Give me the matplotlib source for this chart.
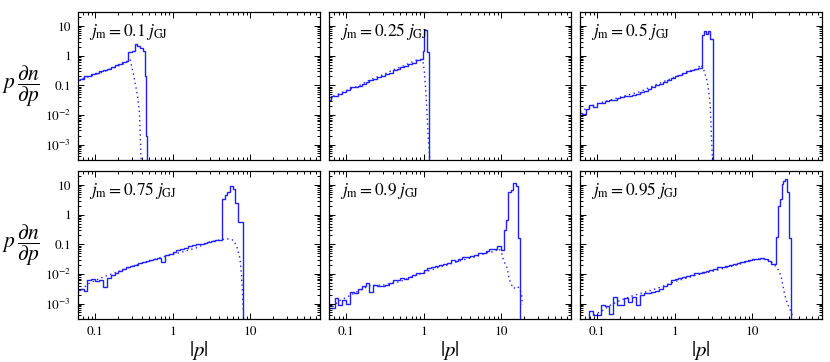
import matplotlib
matplotlib.use("Agg")
import matplotlib.pyplot as plt
from matplotlib.ticker import LogLocator, FixedLocator, FixedFormatter, NullFormatter

plt.rcParams['font.family'] = ['STIXGeneral', 'DejaVu Serif']
plt.rcParams['mathtext.fontset'] = 'stix'

# ---------------- data ----------------
labels = [r'$j_{\rm m} = 0.1\;j_{\rm GJ}$', r'$j_{\rm m} = 0.25\;j_{\rm GJ}$', r'$j_{\rm m} = 0.5\;j_{\rm GJ}$',
          r'$j_{\rm m} = 0.75\;j_{\rm GJ}$', r'$j_{\rm m} = 0.9\;j_{\rm GJ}$', r'$j_{\rm m} = 0.95\;j_{\rm GJ}$']

base_edges = [0.0562, 0.0631, 0.0708, 0.0794, 0.0891, 0.100, 0.112, 0.126, 0.141, 0.158,
              0.178, 0.200, 0.224, 0.251, 0.282, 0.316, 0.355, 0.398, 0.447, 0.501,
              0.562, 0.631, 0.708, 0.794, 0.891, 1.000, 1.122, 1.259, 1.413, 1.585,
              1.778, 1.995, 2.239, 2.512, 2.818, 3.162, 3.548, 3.981, 4.467, 5.012,
              5.623, 6.310, 7.079, 7.943, 8.913, 10.00, 11.22, 12.59, 14.13, 15.85, 17.78]

# panel 1 : j = 0.1
edges_1 = base_edges[:14] + [0.269, 0.295, 0.324, 0.347, 0.380, 0.417, 0.437, 0.457, 0.473, 0.490]
solid_1 = [0.15, 0.17, 0.20, 0.21, 0.24, 0.26, 0.30, 0.33, 0.37, 0.42, 0.47, 0.53, 0.60,
           0.68, 1.3, 1.5, 2.5, 2.2, 1.8, 1.5, 0.2, 0.002, 1e-6]
dot_p_1 = [0.06, 0.08, 0.10, 0.13, 0.16, 0.20, 0.25, 0.282, 0.309, 0.33, 0.352, 0.372, 0.380, 0.389, 0.395]
dot_y_1 = [0.155, 0.19, 0.23, 0.29, 0.36, 0.45, 0.58, 0.76, 0.27, 0.11, 0.045, 0.0126, 0.0034, 4.4e-4, 1e-4]

# panel 2 : j = 0.25
edges_2 = base_edges[:25] + [0.977, 1.023, 1.109, 1.175, 1.216]
solid_2 = [0.033, 0.042, 0.044, 0.050, 0.060, 0.070, 0.085, 0.088, 0.095, 0.115, 0.125, 0.150,
           0.160, 0.190, 0.210, 0.245, 0.270, 0.320, 0.350, 0.410, 0.450, 0.530, 0.590, 0.690,
           0.80, 1.4, 7.5, 1.3, 1e-6]
dot_p_2 = [0.06, 0.10, 0.15, 0.20, 0.30, 0.40, 0.60, 0.80, 0.95, 0.977, 1.02, 1.07, 1.11, 1.15, 1.19, 1.23]
dot_y_2 = [0.037, 0.066, 0.10, 0.15, 0.23, 0.33, 0.50, 0.70, 0.75, 0.68, 0.31, 0.057, 0.0095, 0.0016, 5e-4, 1e-4]

# panel 3 : j = 0.5
edges_3 = base_edges[:33] + [2.399, 2.570, 2.692, 2.851, 3.090, 3.236]
solid_3 = [0.012, 0.011, 0.016, 0.021, 0.019, 0.026, 0.025, 0.029, 0.032, 0.031, 0.038, 0.040,
           0.043, 0.045, 0.047, 0.052, 0.058, 0.066, 0.075, 0.085, 0.10, 0.115, 0.13, 0.15,
           0.18, 0.20, 0.22, 0.26, 0.31, 0.34, 0.37, 0.40,
           5.2, 6.8, 5.5, 7.0, 3.6, 1e-6]
dot_p_3 = [0.06, 0.10, 0.20, 0.35, 0.60, 1.0, 1.5, 2.0, 2.14, 2.29, 2.40, 2.63, 2.75, 2.88, 2.95, 3.02, 3.16]
dot_y_3 = [0.013, 0.024, 0.040, 0.060, 0.11, 0.19, 0.27, 0.36, 0.50, 0.42, 0.31, 0.14, 0.066, 0.021, 0.0044, 9.3e-4, 1e-4]

# panel 4 : j = 0.75
edges_4 = base_edges[:38] + [4.315, 4.677, 5.012, 5.521, 6.026, 6.397, 7.079, 8.204, 8.511]
solid_4 = [0.0028, 0.0030, 0.0027, 0.0062, 0.0065, 0.0058, 0.0061, 0.0035, 0.0075, 0.0090,
           0.0105, 0.0125, 0.0150, 0.0165, 0.0190, 0.0205, 0.0230, 0.0250, 0.0270, 0.0300,
           0.0330, 0.0350, 0.0260, 0.0420, 0.0480, 0.0550, 0.0620, 0.0700, 0.0780, 0.0850,
           0.0920, 0.1000, 0.1050, 0.1150, 0.1200, 0.1300, 0.1350,
           0.14, 3.5, 4.5, 6.0, 9.0, 7.5, 2.4, 0.58, 1e-6]
dot_p_4 = [0.06, 0.08, 0.10, 0.13, 0.20, 0.30, 0.50, 0.70, 1.0, 1.5, 2.0, 3.0, 4.0, 5.0, 6.1,
           6.76, 7.41, 7.76, 8.04, 8.2]
dot_y_4 = [0.0022, 0.0045, 0.0060, 0.0080, 0.012, 0.018, 0.027, 0.036, 0.045, 0.060, 0.075,
           0.12, 0.14, 0.155, 0.138, 0.083, 0.033, 0.0091, 0.0015, 5.2e-4]

# panel 5 : j = 0.9
edges_5 = base_edges[:45] + [10.00, 10.91, 11.48, 12.42, 13.30, 14.39, 15.42, 16.52, 17.54, 18.62]
solid_5 = [7e-4, 7e-4, 0.0015, 9e-4, 0.0013, 0.0010, 0.0025, 0.0022, 0.0032, 0.0040,
           0.0048, 0.0025, 0.0042, 0.0040, 0.0038, 0.0042, 0.0048, 0.0061, 0.0060, 0.0071,
           0.0070, 0.0080, 0.0090, 0.0105, 0.0110, 0.0140, 0.0155, 0.0165, 0.0190, 0.0200,
           0.0210, 0.0240, 0.0290, 0.0280, 0.0310, 0.0360, 0.0380, 0.0400, 0.0450, 0.0490,
           0.0520, 0.0600, 0.0700, 0.0700,
           0.089, 0.065, 0.30, 0.66, 6.0, 7.0, 11.4, 9.0, 0.16, 1e-6]
dot_p_5 = [0.06, 0.08, 0.10, 0.15, 0.20, 0.30, 0.50, 0.70, 1.0, 1.5, 2.0, 3.0, 5.0, 7.0, 8.13,
           9.42, 10.2, 10.6, 11.25, 12.05, 12.4, 12.9, 13.7, 14.7, 15.4, 16.5, 18.4, 18.75]
dot_y_5 = [6e-4, 0.0012, 0.0016, 0.0028, 0.0040, 0.0042, 0.0055, 0.0080, 0.011, 0.016, 0.020,
           0.028, 0.040, 0.055, 0.056, 0.072, 0.049, 0.033, 0.022, 0.0155, 0.0091, 0.0062,
           0.0042, 0.0032, 0.0037, 0.0037, 0.0022, 9e-4]

# panel 6 : j = 0.95
edges_6 = base_edges[:51] + [20.32, 21.33, 23.07, 24.21, 25.41, 26.42, 27.99, 29.99, 32.06, 33.88]
solid_6 = [1e-4, 1e-4, 1e-4, 5.5e-4, 4e-4, 4.2e-4, 9e-4, 8.5e-4, 4.5e-4, 0.0017,
           9e-4, 9e-4, 0.0015, 0.0011, 0.0017, 9e-4, 0.0020, 0.0022, 0.0022, 0.0024,
           0.0026, 0.0032, 0.0040, 0.0045, 0.0060, 0.0068, 0.0075, 0.0080, 0.0088, 0.0095,
           0.0105, 0.0110, 0.0120, 0.0130, 0.0140, 0.0150, 0.0165, 0.0175, 0.0185, 0.0200,
           0.0215, 0.0230, 0.0250, 0.0270, 0.0290, 0.0310, 0.0330, 0.0340, 0.0330, 0.0280,
           0.022, 0.18, 1.9, 3.5, 11.0, 14.0, 16.5, 6.0, 0.16, 1e-6]
dot_p_6 = [0.09, 0.12, 0.15, 0.20, 0.30, 0.50, 0.70, 1.0, 1.5, 2.0, 3.0, 5.0, 8.0, 12.0, 15.0,
           17.5, 19.4, 21.3, 23.5, 24.7, 25.9, 27.2, 28.6, 30.5, 33.1]
dot_y_6 = [4e-4, 6e-4, 9e-4, 0.0013, 0.0019, 0.0028, 0.0038, 0.0055, 0.0075, 0.0095, 0.012,
           0.017, 0.024, 0.032, 0.033, 0.026, 0.020, 0.0155, 0.0090, 0.0048, 0.0025, 0.0015,
           0.0010, 6.8e-4, 4e-4]

panels = [(edges_1, solid_1, dot_p_1, dot_y_1), (edges_2, solid_2, dot_p_2, dot_y_2),
          (edges_3, solid_3, dot_p_3, dot_y_3), (edges_4, solid_4, dot_p_4, dot_y_4),
          (edges_5, solid_5, dot_p_5, dot_y_5), (edges_6, solid_6, dot_p_6, dot_y_6)]

x_ticks = [0.1, 1, 10]
x_ticklabels = ['0.1', '1', '10']
y_ticks = [1e-3, 1e-2, 0.1, 1, 10]
y_ticklabels = [r'$10^{-3}$', r'$10^{-2}$', '0.1', '1', '10']

# ---------------- figure ----------------
W, H = 830, 362
fig = plt.figure(figsize=(W / 100, H / 100), dpi=100)
col_left = [78, 329, 580]
ax_w = 242
row_top = [12, 171]
ax_h = 148
color = '#1f1fff'

for i, (edges, solid, dp, dy) in enumerate(panels):
    r, c = divmod(i, 3)
    ax = fig.add_axes([col_left[c] / W, (H - row_top[r] - ax_h) / H, ax_w / W, ax_h / H])
    ax.set_xscale('log')
    ax.set_yscale('log')
    ax.stairs(solid, edges, color=color, lw=1.0, baseline=None)
    ax.plot(dp, dy, color=color, lw=1.0, ls=(0, (1, 2.4)))
    ax.set_xlim(0.06, 80)
    ax.set_ylim(3e-4, 30)

    ax.xaxis.set_major_locator(FixedLocator(x_ticks))
    ax.yaxis.set_major_locator(FixedLocator(y_ticks))
    ax.xaxis.set_minor_locator(LogLocator(base=10, subs=range(2, 10), numticks=20))
    ax.yaxis.set_minor_locator(LogLocator(base=10, subs=range(2, 10), numticks=20))
    ax.xaxis.set_minor_formatter(NullFormatter())
    ax.yaxis.set_minor_formatter(NullFormatter())
    if r == 1:
        ax.xaxis.set_major_formatter(FixedFormatter(x_ticklabels))
        ax.set_xlabel(r'$|p|$', fontsize=15, labelpad=1)
    else:
        ax.xaxis.set_major_formatter(NullFormatter())
    if c == 0:
        ax.yaxis.set_major_formatter(FixedFormatter(y_ticklabels))
        ax.set_ylabel(r'$p\,\dfrac{\partial n}{\partial p}$', fontsize=15.5, rotation=0,
                      va='center', ha='center')
        ax.yaxis.set_label_coords(-0.235, 0.5)
    else:
        ax.yaxis.set_major_formatter(NullFormatter())

    ax.tick_params(which='both', direction='in', top=True, right=True, labelsize=9.5, width=0.7)
    ax.tick_params(which='major', length=4.5, pad=5)
    ax.tick_params(which='minor', length=2.2)
    for s in ax.spines.values():
        s.set_linewidth(0.9)

    ax.text(0.045, 0.865, labels[i], transform=ax.transAxes, fontsize=12.5, va='center', ha='left')

fig.savefig('out.png', dpi=100)
